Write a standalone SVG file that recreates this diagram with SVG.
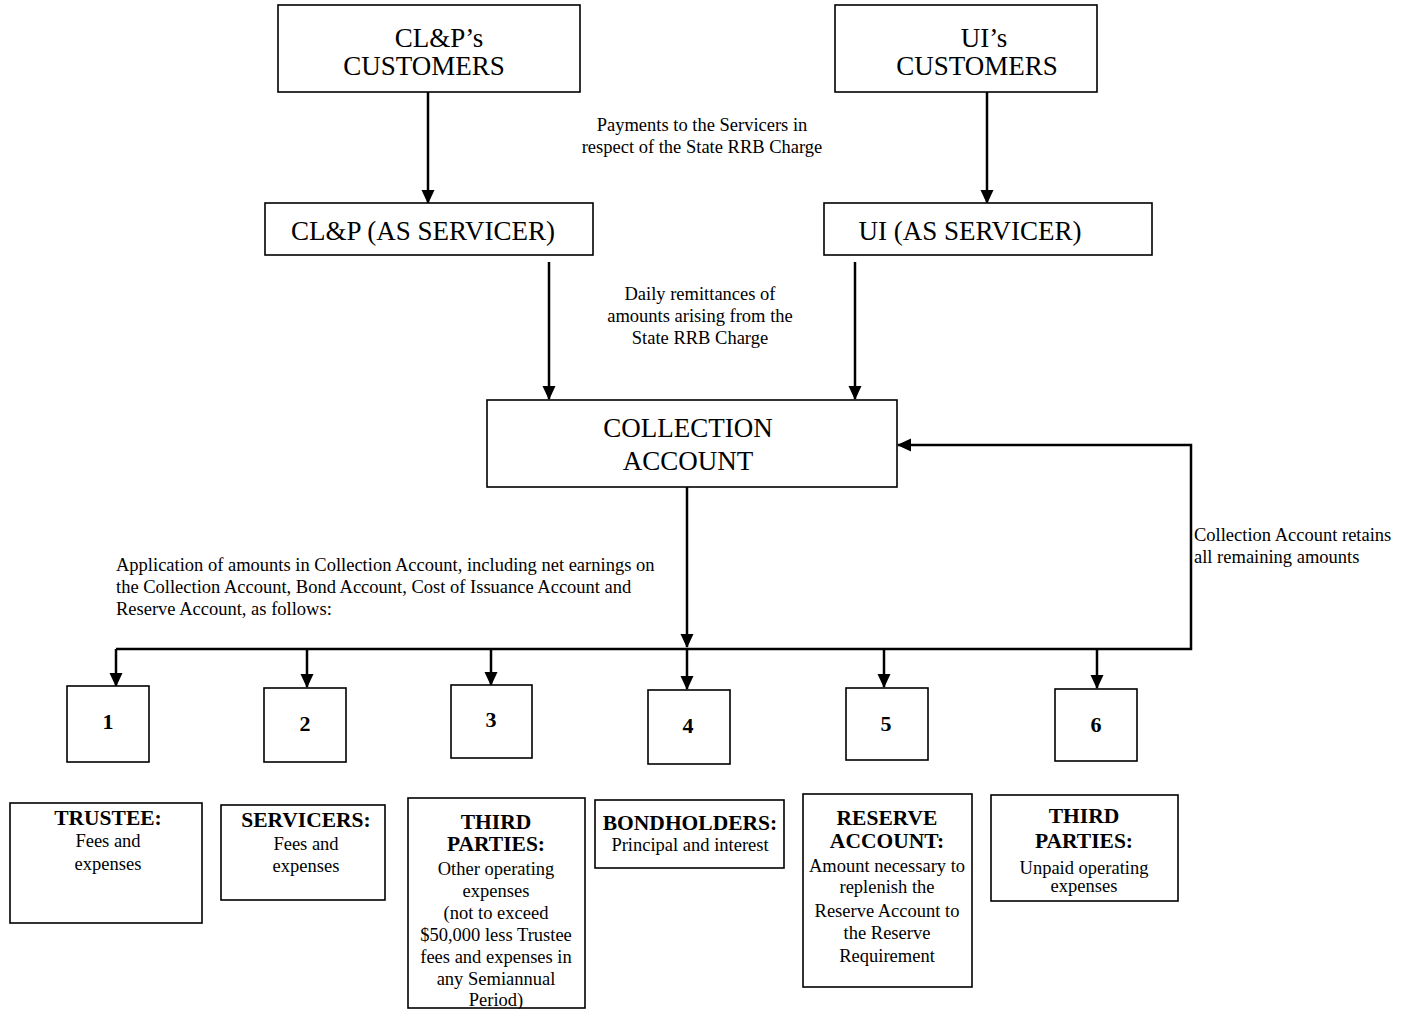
<svg xmlns="http://www.w3.org/2000/svg" width="1413" height="1009" viewBox="0 0 1413 1009">
<style>
  .box { fill: #fff; stroke: #000; stroke-width: 1.6; }
  .big { font-family: "Liberation Serif", "Times New Roman", serif; font-size: 27px; fill: #000; text-anchor: middle; }
  .lbl { font-family: "Liberation Serif", "Times New Roman", serif; font-size: 18.5px; fill: #000; }
  .mid { text-anchor: middle; }
  .num { font-family: "Liberation Serif", "Times New Roman", serif; font-size: 22px; font-weight: bold; fill: #000; text-anchor: middle; }
  .hd { font-family: "Liberation Serif", "Times New Roman", serif; font-size: 21.5px; font-weight: bold; fill: #000; text-anchor: middle; }
  .bd { font-family: "Liberation Serif", "Times New Roman", serif; font-size: 18.5px; fill: #000; text-anchor: middle; }
  .ln { fill: none; stroke: #000; stroke-width: 2.5; }
</style>
<defs>
  <marker id="ah" markerWidth="14" markerHeight="14" viewBox="0 0 14 14" refX="13" refY="7" orient="auto" markerUnits="userSpaceOnUse">
    <path d="M0,0.5 L14,7 L0,13.5 Z" fill="#000"/>
  </marker>
</defs>

<g id="connectors">
  <line class="ln" x1="428" y1="92" x2="428" y2="203" marker-end="url(#ah)"/>
  <line class="ln" x1="987" y1="92" x2="987" y2="203" marker-end="url(#ah)"/>
  <line class="ln" x1="549" y1="262" x2="549" y2="399" marker-end="url(#ah)"/>
  <line class="ln" x1="855" y1="262" x2="855" y2="399" marker-end="url(#ah)"/>
  <line class="ln" x1="687" y1="487" x2="687" y2="647" marker-end="url(#ah)"/>
  <polyline class="ln" points="116,649 1191,649 1191,445 898,445" marker-end="url(#ah)"/>
  <line class="ln" x1="116" y1="649" x2="116" y2="686" marker-end="url(#ah)"/>
  <line class="ln" x1="307" y1="649" x2="307" y2="687" marker-end="url(#ah)"/>
  <line class="ln" x1="491" y1="649" x2="491" y2="685" marker-end="url(#ah)"/>
  <line class="ln" x1="687" y1="649" x2="687" y2="689" marker-end="url(#ah)"/>
  <line class="ln" x1="884" y1="649" x2="884" y2="687" marker-end="url(#ah)"/>
  <line class="ln" x1="1097" y1="649" x2="1097" y2="688" marker-end="url(#ah)"/>
</g>

<g id="connector-labels">
  <text class="lbl mid" x="702" y="131">Payments to the Servicers in</text>
  <text class="lbl mid" x="702" y="153">respect of the State RRB Charge</text>
  <text class="lbl mid" x="700" y="300">Daily remittances of</text>
  <text class="lbl mid" x="700" y="322">amounts arising from the</text>
  <text class="lbl mid" x="700" y="344">State RRB Charge</text>
  <text class="lbl" x="116" y="571">Application of amounts in Collection Account, including net earnings on</text>
  <text class="lbl" x="116" y="593">the Collection Account, Bond Account, Cost of Issuance Account and</text>
  <text class="lbl" x="116" y="615">Reserve Account, as follows:</text>
  <text class="lbl" x="1194" y="541">Collection Account retains</text>
  <text class="lbl" x="1194" y="563">all remaining amounts</text>
</g>

<g id="clp-customers">
  <rect class="box" x="278" y="5" width="302" height="87"/>
  <text class="big" x="439" y="47">CL&amp;P’s</text>
  <text class="big" x="424" y="75">CUSTOMERS</text>
</g>
<g id="ui-customers">
  <rect class="box" x="835" y="5" width="262" height="87"/>
  <text class="big" x="984" y="47">UI’s</text>
  <text class="big" x="977" y="75">CUSTOMERS</text>
</g>
<g id="clp-servicer">
  <rect class="box" x="265" y="203" width="328" height="52"/>
  <text class="big" x="423" y="240">CL&amp;P (AS SERVICER)</text>
</g>
<g id="ui-servicer">
  <rect class="box" x="824" y="203" width="328" height="52"/>
  <text class="big" x="970" y="240">UI (AS SERVICER)</text>
</g>
<g id="collection-account">
  <rect class="box" x="487" y="400" width="410" height="87"/>
  <text class="big" x="688" y="437">COLLECTION</text>
  <text class="big" x="688" y="470">ACCOUNT</text>
</g>

<g id="n1"><rect class="box" x="67" y="686" width="82" height="76"/><text class="num" x="108" y="729">1</text></g>
<g id="n2"><rect class="box" x="264" y="688" width="82" height="74"/><text class="num" x="305" y="731">2</text></g>
<g id="n3"><rect class="box" x="451" y="685" width="81" height="73"/><text class="num" x="491" y="727">3</text></g>
<g id="n4"><rect class="box" x="648" y="690" width="82" height="74"/><text class="num" x="688" y="733">4</text></g>
<g id="n5"><rect class="box" x="846" y="688" width="82" height="72"/><text class="num" x="886" y="731">5</text></g>
<g id="n6"><rect class="box" x="1055" y="689" width="82" height="72"/><text class="num" x="1096" y="732">6</text></g>

<g id="trustee">
  <rect class="box" x="10" y="803" width="192" height="120"/>
  <text class="hd" x="108" y="825">TRUSTEE:</text>
  <text class="bd" x="108" y="847">Fees and</text>
  <text class="bd" x="108" y="870">expenses</text>
</g>
<g id="servicers">
  <rect class="box" x="221" y="805" width="164" height="95"/>
  <text class="hd" x="306" y="827">SERVICERS:</text>
  <text class="bd" x="306" y="850">Fees and</text>
  <text class="bd" x="306" y="872">expenses</text>
</g>
<g id="third-parties-3">
  <rect class="box" x="408" y="798" width="177" height="210"/>
  <text class="hd" x="496" y="829">THIRD</text>
  <text class="hd" x="496" y="851">PARTIES:</text>
  <text class="bd" x="496" y="875">Other operating</text>
  <text class="bd" x="496" y="897">expenses</text>
  <text class="bd" x="496" y="919">(not to exceed</text>
  <text class="bd" x="496" y="941">$50,000 less Trustee</text>
  <text class="bd" x="496" y="963">fees and expenses in</text>
  <text class="bd" x="496" y="985">any Semiannual</text>
  <text class="bd" x="496" y="1006">Period)</text>
</g>
<g id="bondholders">
  <rect class="box" x="595" y="800" width="189" height="68"/>
  <text class="hd" x="690" y="830">BONDHOLDERS:</text>
  <text class="bd" x="690" y="851">Principal and interest</text>
</g>
<g id="reserve-account">
  <rect class="box" x="803" y="794" width="169" height="193"/>
  <text class="hd" x="887" y="825">RESERVE</text>
  <text class="hd" x="887" y="848">ACCOUNT:</text>
  <text class="bd" x="887" y="872">Amount necessary to</text>
  <text class="bd" x="887" y="893">replenish the</text>
  <text class="bd" x="887" y="917">Reserve Account to</text>
  <text class="bd" x="887" y="939">the Reserve</text>
  <text class="bd" x="887" y="962">Requirement</text>
</g>
<g id="third-parties-6">
  <rect class="box" x="991" y="795" width="187" height="106"/>
  <text class="hd" x="1084" y="823">THIRD</text>
  <text class="hd" x="1084" y="848">PARTIES:</text>
  <text class="bd" x="1084" y="874">Unpaid operating</text>
  <text class="bd" x="1084" y="892">expenses</text>
</g>
</svg>
